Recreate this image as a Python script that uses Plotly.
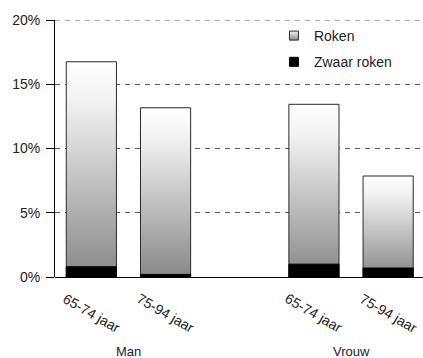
import plotly.graph_objects as go

# Smoking among elderly, by sex and age group (percent)
groups = ["Man", "Vrouw"]
age_labels = ["65-74 jaar", "75-94 jaar", "65-74 jaar", "75-94 jaar"]
slots = [0, 1, 3, 4]          # slot 2 is left empty to separate the sexes
roken = [16.75, 13.17, 13.44, 7.86]
zwaar_roken = [0.8, 0.2, 1.0, 0.7]
y_ticks = [0, 5, 10, 15, 20]

HALF = 0.338
FONT = "Liberation Sans, Arial, sans-serif"
OUTLINE = "#2a2a2a"
GRID = "#555555"

fig = go.Figure()


def bar_outline(xc, top):
    return ([xc - HALF, xc + HALF, xc + HALF, xc - HALF, xc - HALF],
            [0, 0, top, top, 0])


# Total smokers: grey-to-white gradient bars
for xc, v in zip(slots, roken):
    xs, ys = bar_outline(xc, v)
    fig.add_trace(go.Scatter(
        x=xs, y=ys, mode="lines", fill="toself",
        line=dict(color=OUTLINE, width=1),
        fillgradient=dict(type="vertical", start=0, stop=v,
                          colorscale=[[0, "#888888"], [0.82, "#f2f2f2"], [1, "#ffffff"]]),
        showlegend=False, hoverinfo="skip",
    ))

# Heavy smokers: black segment at the bottom of each bar
for xc, v in zip(slots, zwaar_roken):
    xs, ys = bar_outline(xc, v)
    fig.add_trace(go.Scatter(
        x=xs, y=ys, mode="lines", fill="toself",
        line=dict(color="#000000", width=1), fillcolor="#000000",
        showlegend=False, hoverinfo="skip",
    ))

# Legend entries with small square swatches
fig.add_trace(go.Scatter(
    x=[None], y=[None], mode="markers", name="Roken", legendgroup="roken",
    marker=dict(symbol="square", size=9, color="#f4f4f4",
                gradient=dict(type="vertical", color="#8a8a8a"),
                line=dict(color=OUTLINE, width=1)),
))
fig.add_trace(go.Scatter(
    x=[None], y=[None], mode="markers", name="Zwaar roken", legendgroup="zwaar",
    marker=dict(symbol="square", size=9, color="#000000",
                line=dict(color="#000000", width=1)),
))

# Rotated age-group labels under each bar
for xc, lab in zip(slots, age_labels):
    fig.add_annotation(x=xc, y=-0.14, xref="x", yref="paper", text=lab,
                       textangle=30, showarrow=False, yanchor="middle",
                       font=dict(family=FONT, size=14, color="#222"))

# Sex labels centred under each pair
for g, centre in zip(groups, [0.5, 3.5]):
    fig.add_annotation(x=centre, y=-0.288, xref="x", yref="paper", text=g,
                       showarrow=False, yanchor="middle",
                       font=dict(family=FONT, size=13, color="#222"))

# Dashed line at the top of the value range
fig.add_hline(y=y_ticks[-1], line=dict(color=GRID, width=1, dash="5px,5px"))

fig.update_layout(
    width=423, height=358,
    margin=dict(l=55, r=0, t=20, b=81),
    plot_bgcolor="white", paper_bgcolor="white",
    font=dict(family=FONT, size=14, color="#222"),
    legend=dict(x=0.595, y=1.0, xanchor="left", yanchor="top",
                bgcolor="rgba(0,0,0,0)", tracegroupgap=5, itemwidth=30,
                font=dict(family=FONT, size=14, color="#222"), traceorder="grouped"),
    xaxis=dict(range=[-0.49, 4.47], showticklabels=False, showgrid=False,
               zeroline=False, showline=False, ticks=""),
    yaxis=dict(range=[0, 20], tickvals=y_ticks,
               ticktext=[f"{t}%" for t in y_ticks],
               showgrid=True, gridcolor=GRID, griddash="5px,5px", gridwidth=1,
               showline=True, linecolor="#000", linewidth=1,
               ticks="outside", ticklen=8, tickcolor="#000", ticklabelstandoff=3,
               tickfont=dict(family=FONT, size=14, color="#222"),
               zeroline=True, zerolinecolor="#000", zerolinewidth=1),
    hovermode=False,
)

fig.write_html("out.html")
